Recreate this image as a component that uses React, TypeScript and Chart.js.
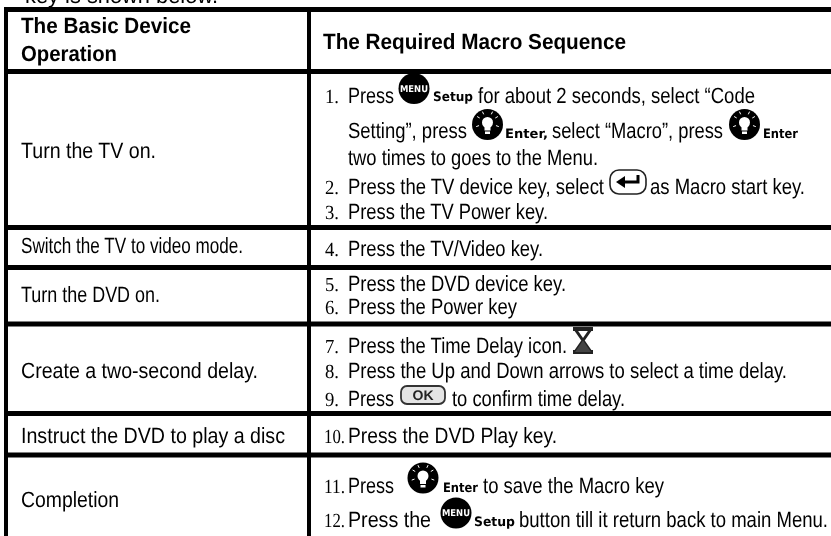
import React, { useEffect, useRef } from "react";
import { Chart, registerables } from "chart.js";

Chart.register(...registerables);

const SANS = "22px 'Liberation Sans'";
const BOLD = "bold 22px 'Liberation Sans'";
const SERIF = "20px 'Liberation Serif'";
const SMALL = "bold 13px 'DejaVu Sans'";

const horizontalRules = [9.5, 71.5, 227.5, 267.5, 324, 413.5, 455];
const verticalRules = [6, 309];
const tableLeft = 4;
const tableRight = 831;
const tableTop = 7;
const tableBottom = 536;

// [text, xStart, xEnd, baseline, font]
type Run = [string, number, number, number, string];

const headerRuns: Run[] = [
  ["key is shown below.", 25, 218, 3, SANS],
  ["The Basic Device", 21, 191, 33, BOLD],
  ["Operation", 21, 117, 61, BOLD],
  ["The Required Macro Sequence", 323, 626, 49, BOLD],
];

const operationRuns: Run[] = [
  ["Turn the TV on.", 21, 156, 158, SANS],
  ["Switch the TV to video mode.", 21, 243, 253, SANS],
  ["Turn the DVD on.", 21, 160, 302, SANS],
  ["Create a two-second delay.", 21, 258, 378, SANS],
  ["Instruct the DVD to play a disc", 21, 285, 443, SANS],
  ["Completion", 21, 119, 507, SANS],
];

const numberRuns: Run[] = [
  ["1.", 325, 339, 103, SERIF],
  ["2.", 325, 339, 194, SERIF],
  ["3.", 325, 339, 219, SERIF],
  ["4.", 325, 339, 256, SERIF],
  ["5.", 325, 339, 291, SERIF],
  ["6.", 325, 339, 314, SERIF],
  ["7.", 325, 339, 353, SERIF],
  ["8.", 325, 339, 378, SERIF],
  ["9.", 325, 339, 406, SERIF],
  ["10.", 324, 345, 443, SERIF],
  ["11.", 324, 345, 493, SERIF],
  ["12.", 324, 345, 527, SERIF],
];

const stepRuns: Run[] = [
  ["Press", 348, 394, 103, SANS],
  ["Setup", 433, 473, 101, SMALL],
  ["for about 2 seconds, select “Code", 478, 755, 103, SANS],
  ["Setting”, press", 348, 467, 138, SANS],
  ["Enter,", 505, 548, 138, SMALL],
  ["select “Macro”, press", 552, 723, 138, SANS],
  ["Enter", 763, 798, 138, SMALL],
  ["two times to goes to the Menu.", 348, 598, 165, SANS],
  ["Press the TV device key, select", 348, 604, 194, SANS],
  ["as Macro start key.", 650, 805, 194, SANS],
  ["Press the TV Power key.", 348, 548, 219, SANS],
  ["Press the TV/Video key.", 348, 543, 256, SANS],
  ["Press the DVD device key.", 348, 566, 291, SANS],
  ["Press the Power key", 348, 517, 314, SANS],
  ["Press the Time Delay icon.", 348, 567, 353, SANS],
  ["Press the Up and Down arrows to select a time delay.", 348, 787, 378, SANS],
  ["Press", 348, 394, 406, SANS],
  ["to confirm time delay.", 452, 625, 406, SANS],
  ["Press the DVD Play key.", 348, 557, 443, SANS],
  ["Press", 348, 394, 493, SANS],
  ["Enter", 443, 478, 492, SMALL],
  ["to save the Macro key", 483, 664, 493, SANS],
  ["Press the", 348, 431, 527, SANS],
  ["Setup", 474, 515, 526, SMALL],
  ["button till it return back to main Menu.", 519, 828, 527, SANS],
];

const menuIconX = [414, 456];
const menuIconY = [88.5, 513];
const bulbIconX = [487.5, 744.5, 423];
const bulbIconY = [124.5, 124.5, 478];
const returnIcon = [609, 169, 647, 195];
const okIcon = [400, 385, 446, 405];
const hourglassIcon = [573, 327, 593, 354];

const allRuns = [...headerRuns, ...operationRuns, ...numberRuns, ...stepRuns];

const tablePlugin = {
  id: "tableText",
  afterDatasetsDraw(chart: any) {
    const { ctx, scales } = chart;
    const px = (v: number) => scales.x.getPixelForValue(v);
    const py = (v: number) => scales.y.getPixelForValue(v);
    ctx.save();
    ctx.textRendering = "geometricPrecision";
    ctx.filter = "blur(0.35px)";
    ctx.textBaseline = "alphabetic";
    ctx.textAlign = "left";
    ctx.fillStyle = "#000";
    for (const [text, x0, x1, base, font] of allRuns) {
      ctx.font = font;
      const w = ctx.measureText(text).width;
      ctx.save();
      ctx.translate(px(x0), py(base));
      ctx.scale((x1 - x0) / w, 1);
      ctx.fillText(text, 0, 0);
      ctx.restore();
    }

    // MENU icon lettering
    ctx.fillStyle = "#fff";
    menuIconX.forEach((x, i) => {
      ctx.font = "bold 9px 'DejaVu Sans'";
      ctx.textAlign = "center";
      const w = ctx.measureText("MENU").width;
      ctx.save();
      ctx.translate(px(x), py(menuIconY[i]));
      ctx.scale(28 / w, 1.05);
      ctx.fillText("MENU", 0, 3);
      ctx.restore();
    });
    ctx.textAlign = "left";

    // bulb glyph inside each bulb icon
    bulbIconX.forEach((x, i) => {
      const cx = px(x);
      const cy = py(bulbIconY[i]);
      ctx.fillStyle = "#fff";
      ctx.beginPath();
      ctx.arc(cx, cy - 2, 5.5, 0, Math.PI * 2);
      ctx.fill();
      ctx.fillRect(cx - 3, cy + 2, 6, 4);
      ctx.fillRect(cx - 2.5, cy + 7, 5, 2.5);
      ctx.strokeStyle = "#fff";
      ctx.lineWidth = 1;
      for (const a of [-150, -115, -65, -30, 20, 160]) {
        const r = (a * Math.PI) / 180;
        ctx.beginPath();
        ctx.moveTo(cx + Math.cos(r) * 9, cy - 2 + Math.sin(r) * 9);
        ctx.lineTo(cx + Math.cos(r) * 12, cy - 2 + Math.sin(r) * 12);
        ctx.stroke();
      }
    });

    // return key
    {
      const [a, b, c, d] = returnIcon;
      const x0 = px(a), y0 = py(b), x1 = px(c), y1 = py(d);
      ctx.strokeStyle = "#222";
      ctx.lineWidth = 1.6;
      ctx.beginPath();
      ctx.roundRect(x0 + 1, y0 + 1, x1 - x0 - 2, y1 - y0 - 2, 9);
      ctx.stroke();
      ctx.strokeStyle = "#000";
      ctx.lineWidth = 3;
      ctx.beginPath();
      ctx.moveTo(x1 - 9, y0 + 6);
      ctx.lineTo(x1 - 9, y0 + 13);
      ctx.lineTo(x0 + 14, y0 + 13);
      ctx.stroke();
      ctx.fillStyle = "#000";
      ctx.beginPath();
      ctx.moveTo(x0 + 7, y0 + 13);
      ctx.lineTo(x0 + 16, y0 + 7);
      ctx.lineTo(x0 + 16, y0 + 19);
      ctx.closePath();
      ctx.fill();
    }

    // OK key
    {
      const [a, b, c, d] = okIcon;
      const x0 = px(a), y0 = py(b), x1 = px(c), y1 = py(d);
      ctx.strokeStyle = "#333";
      ctx.lineWidth = 1.8;
      ctx.fillStyle = "#e4e4e4";
      ctx.beginPath();
      ctx.roundRect(x0 + 1, y0 + 1, x1 - x0 - 2, y1 - y0 - 2, 6);
      ctx.fill();
      ctx.stroke();
      ctx.fillStyle = "#222";
      ctx.font = "bold 14px 'Liberation Sans'";
      ctx.textAlign = "center";
      ctx.fillText("OK", (x0 + x1) / 2, y1 - 5);
      ctx.textAlign = "left";
    }

    // hourglass
    {
      const [a, b, c, d] = hourglassIcon;
      const x0 = px(a), y0 = py(b), x1 = px(c), y1 = py(d);
      const mx = (x0 + x1) / 2, my = (y0 + y1) / 2;
      ctx.fillStyle = "#222";
      ctx.fillRect(x0, y0, x1 - x0, 4);
      ctx.fillRect(x0, y1 - 4, x1 - x0, 4);
      ctx.strokeStyle = "#222";
      ctx.lineWidth = 3;
      ctx.beginPath();
      ctx.moveTo(x0 + 2, y0 + 2);
      ctx.lineTo(x1 - 2, y1 - 2);
      ctx.moveTo(x1 - 2, y0 + 2);
      ctx.lineTo(x0 + 2, y1 - 2);
      ctx.stroke();
      ctx.fillStyle = "#444";
      ctx.beginPath();
      ctx.moveTo(mx, my);
      ctx.lineTo(x1 - 2, y1 - 2);
      ctx.lineTo(x0 + 2, y1 - 2);
      ctx.closePath();
      ctx.fill();
    }
    ctx.restore();
  },
};

const whiteBackground = {
  id: "whiteBackground",
  beforeDraw(chart: any) {
    const { ctx, width, height } = chart;
    ctx.save();
    ctx.fillStyle = "#fff";
    ctx.fillRect(0, 0, width, height);
    ctx.restore();
  },
};

export default function App() {
  const ref = useRef<HTMLCanvasElement>(null);
  useEffect(() => {
    const rule = (pts: { x: number; y: number }[], width: number) => ({
      type: "line" as const,
      data: pts,
      borderColor: "#000",
      borderWidth: width,
      borderCapStyle: "butt" as const,
      pointRadius: 0,
      showLine: true,
      clip: false as const,
    });
    const chart = new Chart(ref.current!, {
      type: "scatter",
      data: {
        datasets: [
          ...horizontalRules.map((y) =>
            rule([{ x: tableLeft, y }, { x: tableRight, y }], 5)
          ),
          ...verticalRules.map((x) =>
            rule([{ x, y: tableTop }, { x, y: tableBottom }], 4)
          ),
          {
            type: "scatter" as const,
            data: [
              ...menuIconX.map((x, i) => ({ x, y: menuIconY[i] })),
              ...bulbIconX.map((x, i) => ({ x, y: bulbIconY[i] })),
            ],
            pointRadius: 15.5,
            pointBorderWidth: 0,
            pointBackgroundColor: "#000",
            pointStyle: "circle",
            clip: false as const,
          },
        ],
      },
      options: {
        animation: false,
        responsive: false,
        layout: { padding: 0, autoPadding: false },
        plugins: { legend: { display: false }, tooltip: { enabled: false } },
        scales: {
          x: { type: "linear", display: false, min: 0, max: 831 },
          y: { type: "linear", display: false, min: 0, max: 536, reverse: true },
        },
      },
      plugins: [whiteBackground, tablePlugin],
    });
    return () => chart.destroy();
  }, []);
  return (
    <canvas
      ref={ref}
      width={831}
      height={536}
      style={{ position: "fixed", left: 0, top: 0, width: 831, height: 536, display: "block" }}
    />
  );
}
